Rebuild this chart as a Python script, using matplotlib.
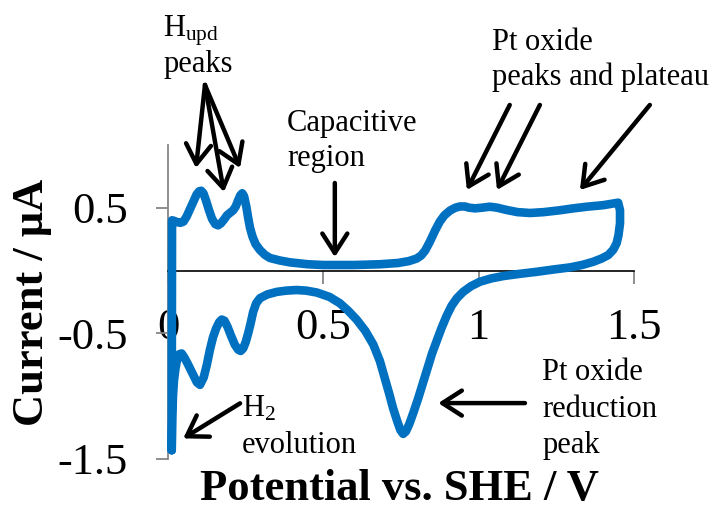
import matplotlib
matplotlib.use("Agg")
import matplotlib.pyplot as plt

plt.rcParams['font.family'] = ['Liberation Serif', 'DejaVu Serif']
plt.rcParams['mathtext.fontset'] = 'custom'
plt.rcParams['mathtext.rm'] = 'Liberation Serif'
plt.rcParams['mathtext.it'] = 'Liberation Serif:italic'
plt.rcParams['mathtext.bf'] = 'Liberation Serif:bold'
plt.rcParams['axes.unicode_minus'] = False

# Cyclic voltammogram (potential V vs SHE, current uA), traced around the loop
potential = [0.012, 0.013, 0.020, 0.030, 0.040, 0.050, 0.060, 0.071, 0.082, 0.092, 0.100,
             0.107, 0.114, 0.122, 0.132, 0.142, 0.152, 0.161, 0.170, 0.180, 0.190,
             0.200, 0.210, 0.218, 0.226, 0.233, 0.239, 0.245, 0.252, 0.258, 0.264,
             0.272, 0.282, 0.296, 0.312, 0.328, 0.360, 0.393, 0.450, 0.500, 0.600,
             0.682, 0.740, 0.775, 0.800, 0.815, 0.828, 0.843, 0.860, 0.875, 0.890,
             0.908, 0.925, 0.940, 0.955, 0.970, 0.988, 1.010, 1.036, 1.060, 1.090,
             1.125, 1.165, 1.210, 1.262, 1.305, 1.348, 1.400, 1.449,
             1.455, 1.455, 1.450, 1.444, 1.433, 1.417, 1.395, 1.369, 1.334, 1.294,
             1.240, 1.187, 1.130, 1.079, 1.040, 1.004, 0.975, 0.950, 0.930, 0.913,
             0.897, 0.880, 0.865, 0.850, 0.835, 0.820, 0.805, 0.790, 0.777, 0.766,
             0.757, 0.748, 0.738, 0.725, 0.712, 0.697, 0.682, 0.661, 0.635, 0.607,
             0.580, 0.553, 0.520, 0.479, 0.445, 0.414, 0.380, 0.350, 0.320, 0.296,
             0.284, 0.274, 0.266, 0.258, 0.250, 0.242, 0.234, 0.226, 0.215, 0.203,
             0.192, 0.182, 0.173, 0.165, 0.155, 0.145, 0.135, 0.125, 0.115, 0.103,
             0.093, 0.083, 0.073, 0.063, 0.052, 0.044, 0.037, 0.030, 0.024, 0.019,
             0.016, 0.014, 0.013, 0.012]
current = [-1.43, 0.40, 0.395, 0.385, 0.380, 0.390, 0.430, 0.490, 0.550, 0.605, 0.630,
           0.635, 0.615, 0.560, 0.480, 0.410, 0.370, 0.360, 0.375, 0.405, 0.440,
           0.460, 0.480, 0.510, 0.560, 0.600, 0.615, 0.590, 0.510, 0.420, 0.340,
           0.270, 0.210, 0.163, 0.125, 0.100, 0.080, 0.065, 0.050, 0.044, 0.044,
           0.050, 0.060, 0.075, 0.095, 0.120, 0.160, 0.230, 0.320, 0.390, 0.440,
           0.478, 0.500, 0.510, 0.510, 0.500, 0.495, 0.500, 0.508, 0.500, 0.482,
           0.465, 0.458, 0.465, 0.480, 0.495, 0.508, 0.520, 0.540,
           0.480, 0.376, 0.280, 0.217, 0.165, 0.123, 0.095, 0.070, 0.045, 0.025,
           0.008, -0.010, -0.027, -0.044, -0.063, -0.089, -0.125, -0.170, -0.220, -0.280,
           -0.360, -0.460, -0.560, -0.660, -0.780, -0.900, -1.020, -1.130, -1.220, -1.280,
           -1.300, -1.270, -1.200, -1.100, -0.980, -0.850, -0.720, -0.590, -0.480, -0.390,
           -0.320, -0.260, -0.210, -0.175, -0.160, -0.155, -0.160, -0.170, -0.190, -0.220,
           -0.260, -0.330, -0.420, -0.500, -0.570, -0.620, -0.640, -0.630, -0.590, -0.520,
           -0.450, -0.400, -0.390, -0.410, -0.460, -0.530, -0.630, -0.750, -0.850, -0.910,
           -0.890, -0.840, -0.790, -0.740, -0.690, -0.660, -0.665, -0.700, -0.780, -0.880,
           -1.000, -1.150, -1.300, -1.430]

x_ticks = [0, 0.5, 1, 1.5]
x_tick_labels = ['0', '0.5', '1', '1.5']
y_ticks = [-1.5, -0.5, 0.5]
y_tick_labels = ['-1.5', '-0.5', '0.5']

W, H = 712, 508
fig = plt.figure(figsize=(W / 100, H / 100), dpi=100)
ax = fig.add_axes([168 / W, 1 - 459 / H, (634 - 168) / W, (459 - 144.9) / H])

ax.plot(potential, current, color='#0070C0', lw=6.2, solid_joinstyle='round',
        solid_capstyle='round', clip_on=False, zorder=3)

ax.set_xlim(0, 1.5)
ax.set_ylim(-1.5, 1.0)
ax.spines['top'].set_visible(False)
ax.spines['right'].set_visible(False)
ax.spines['bottom'].set_position(('data', 0))
ax.spines['bottom'].set_color('black')
ax.spines['bottom'].set_linewidth(1.2)
ax.spines['left'].set_color('#868686')
ax.spines['left'].set_linewidth(1.3)

ax.set_xticks(x_ticks)
ax.set_xticklabels(x_tick_labels)
ax.set_yticks(y_ticks)
ax.set_yticklabels(y_tick_labels)
ax.tick_params(axis='both', which='major', labelsize=32, color='#868686',
               width=1.3, length=9, direction='out')
ax.tick_params(axis='x', pad=18)
ax.tick_params(axis='y', pad=20)

fig.text(399 / W, 1 - 500 / H, 'Potential vs. SHE / V', fontsize=32,
         fontweight='bold', ha='center', va='baseline')
fig.text(43 / W, 1 - 302 / H, 'Current / μA', fontsize=32, fontweight='bold',
         rotation=90, rotation_mode='anchor', ha='center', va='baseline')

afs = 22
def txt(x, y, s):
    ax.text(x, y, s, fontsize=afs, ha='left', va='baseline', clip_on=False)

def arrow(x0, y0, x1, y1):
    ax.annotate('', xy=(x1, y1), xytext=(x0, y0), xycoords='data',
                annotation_clip=False,
                arrowprops=dict(arrowstyle='->,head_length=0.7,head_width=0.45',
                                mutation_scale=20, lw=3.2, color='black',
                                shrinkA=0, shrinkB=0))

txt(-0.016, 1.859, r'H$_{\mathrm{upd}}$')
txt(-0.016, 1.58, 'peaks')
arrow(0.119, 1.477, 0.090, 0.816)
arrow(0.119, 1.477, 0.180, 0.625)
arrow(0.119, 1.477, 0.232, 0.816)

txt(0.383, 1.11, 'Capacitive')
txt(0.383, 0.832, 'region')
arrow(0.537, 0.697, 0.537, 0.107)

txt(1.043, 1.755, 'Pt oxide')
txt(1.043, 1.477, 'peaks and plateau')
arrow(1.100, 1.318, 0.962, 0.641)
arrow(1.197, 1.318, 1.059, 0.641)
arrow(1.551, 1.318, 1.326, 0.641)

txt(1.204, -0.872, 'Pt oxide')
txt(1.204, -1.164, 'reduction')
txt(1.204, -1.453, 'peak')
arrow(1.149, -1.055, 0.870, -1.055)

txt(0.238, -1.164, r'H$_{\mathrm{2}}$')
txt(0.238, -1.453, 'evolution')
arrow(0.232, -1.057, 0.049, -1.336)

fig.savefig('out.png', dpi=100)
